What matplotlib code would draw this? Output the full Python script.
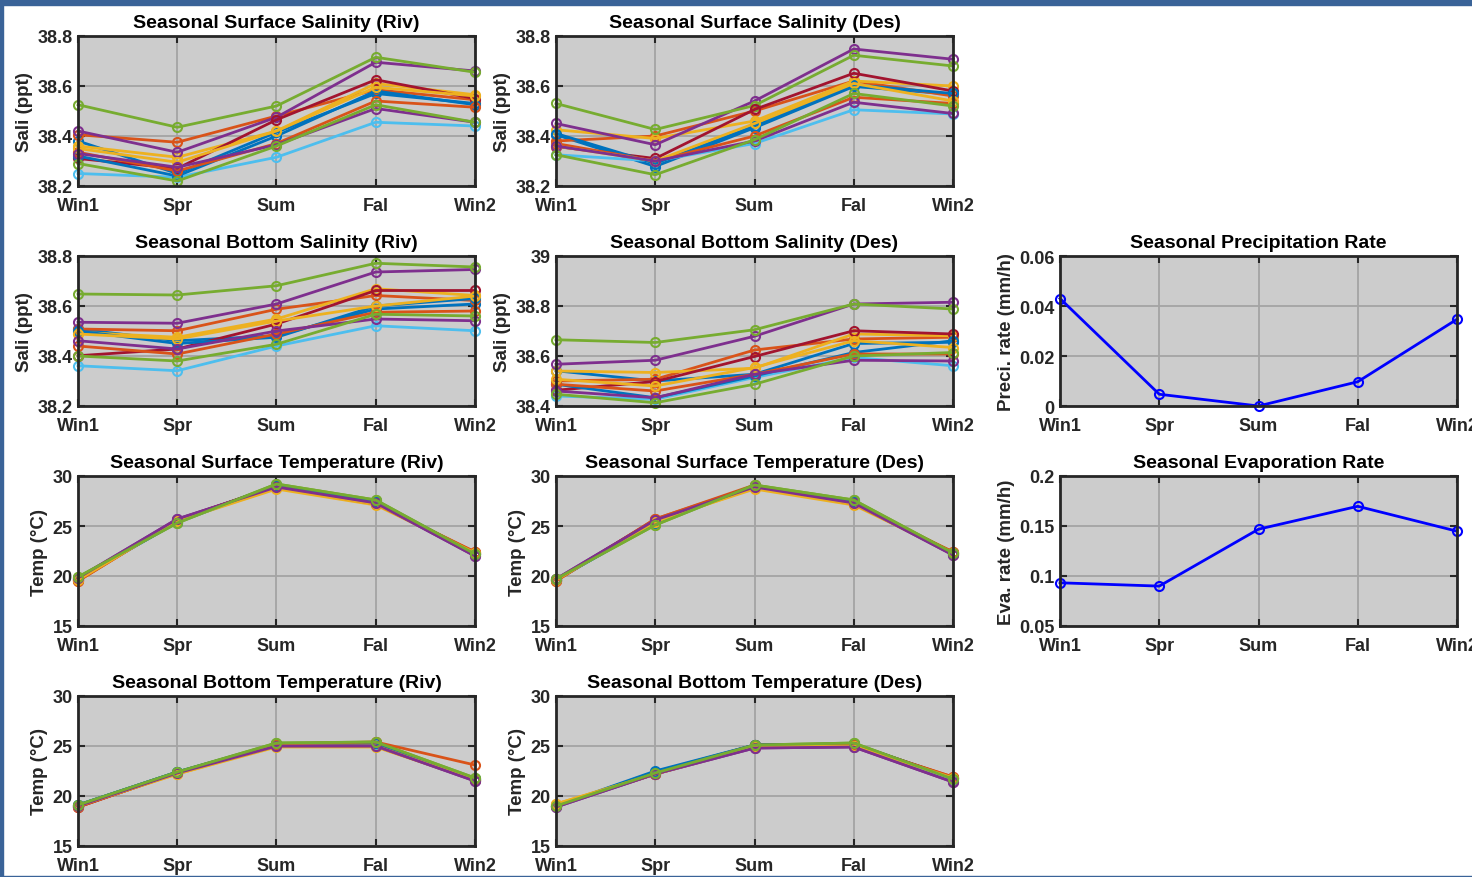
import numpy as np
import matplotlib
matplotlib.use("Agg")
import matplotlib.pyplot as plt
from matplotlib.patches import Rectangle

plt.rcParams['font.family'] = ['Liberation Sans', 'DejaVu Sans']
plt.rcParams['font.weight'] = 'bold'

seasons = ['Win1', 'Spr', 'Sum', 'Fal', 'Win2']

# MATLAB default colour order
line_colors = ['#0072BD', '#D95319', '#EDB120', '#7E2F8E', '#77AC30', '#4DBEEE', '#A2142F']

# surface salinity, river site (12 stations)
sss_riv = [
    [38.38, 38.25, 38.415, 38.57, 38.53],
    [38.405, 38.375, 38.48, 38.585, 38.545],
    [38.36, 38.315, 38.42, 38.61, 38.565],
    [38.42, 38.335, 38.475, 38.695, 38.66],
    [38.525, 38.435, 38.52, 38.715, 38.655],
    [38.25, 38.235, 38.315, 38.455, 38.44],
    [38.31, 38.27, 38.465, 38.625, 38.55],
    [38.32, 38.24, 38.40, 38.58, 38.525],
    [38.335, 38.26, 38.37, 38.54, 38.515],
    [38.35, 38.295, 38.42, 38.595, 38.56],
    [38.33, 38.275, 38.365, 38.51, 38.455],
    [38.29, 38.22, 38.36, 38.525, 38.455],
]
# surface salinity, desal site
sss_des = [
    [38.405, 38.278, 38.433, 38.598, 38.567],
    [38.38, 38.40, 38.50, 38.62, 38.56],
    [38.425, 38.39, 38.46, 38.62, 38.60],
    [38.45, 38.365, 38.54, 38.748, 38.707],
    [38.53, 38.426, 38.522, 38.723, 38.68],
    [38.325, 38.30, 38.37, 38.505, 38.488],
    [38.358, 38.31, 38.506, 38.651, 38.58],
    [38.41, 38.29, 38.44, 38.605, 38.57],
    [38.37, 38.30, 38.40, 38.555, 38.53],
    [38.36, 38.30, 38.45, 38.61, 38.54],
    [38.36, 38.30, 38.38, 38.535, 38.49],
    [38.325, 38.245, 38.385, 38.57, 38.52],
]
# bottom salinity
sbs_riv = [
    [38.508, 38.461, 38.481, 38.588, 38.608],
    [38.508, 38.501, 38.587, 38.642, 38.622],
    [38.495, 38.475, 38.548, 38.669, 38.642],
    [38.535, 38.531, 38.608, 38.736, 38.746],
    [38.648, 38.644, 38.681, 38.771, 38.756],
    [38.361, 38.341, 38.44, 38.521, 38.501],
    [38.401, 38.428, 38.528, 38.662, 38.662],
    [38.50, 38.45, 38.475, 38.60, 38.63],
    [38.44, 38.408, 38.488, 38.575, 38.58],
    [38.488, 38.468, 38.54, 38.60, 38.64],
    [38.461, 38.428, 38.50, 38.548, 38.541],
    [38.40, 38.38, 38.447, 38.567, 38.56],
]
sbs_des = [
    [38.541, 38.50, 38.527, 38.65, 38.655],
    [38.50, 38.507, 38.624, 38.668, 38.675],
    [38.54, 38.534, 38.551, 38.688, 38.681],
    [38.567, 38.583, 38.679, 38.808, 38.815],
    [38.665, 38.654, 38.705, 38.808, 38.788],
    [38.44, 38.427, 38.514, 38.594, 38.561],
    [38.463, 38.498, 38.598, 38.701, 38.688],
    [38.487, 38.433, 38.52, 38.614, 38.661],
    [38.487, 38.46, 38.527, 38.608, 38.608],
    [38.507, 38.48, 38.554, 38.661, 38.634],
    [38.46, 38.433, 38.527, 38.583, 38.58],
    [38.447, 38.413, 38.487, 38.60, 38.614],
]
# surface temperature
sst_riv = [
    [19.7, 25.4, 29.0, 27.4, 22.2],
    [19.5, 25.6, 29.0, 27.3, 22.4],
    [19.6, 25.5, 28.7, 27.1, 22.3],
    [19.8, 25.7, 28.9, 27.3, 22.0],
    [19.9, 25.3, 29.2, 27.6, 22.2],
    [19.7, 25.4, 29.0, 27.4, 22.2],
    [19.6, 25.6, 29.0, 27.3, 22.3],
    [19.7, 25.4, 29.1, 27.5, 22.2],
    [19.5, 25.6, 28.9, 27.2, 22.4],
    [19.6, 25.5, 28.8, 27.2, 22.3],
    [19.8, 25.7, 28.9, 27.3, 22.0],
    [19.9, 25.3, 29.2, 27.6, 22.2],
]
sst_des = [
    [19.6, 25.3, 29.0, 27.4, 22.2],
    [19.5, 25.7, 29.1, 27.3, 22.4],
    [19.6, 25.5, 28.7, 27.1, 22.3],
    [19.7, 25.6, 28.9, 27.3, 22.1],
    [19.7, 25.1, 29.1, 27.6, 22.3],
    [19.6, 25.3, 29.0, 27.4, 22.2],
    [19.6, 25.6, 29.0, 27.3, 22.3],
    [19.6, 25.3, 29.0, 27.5, 22.2],
    [19.5, 25.7, 29.0, 27.2, 22.4],
    [19.6, 25.4, 28.8, 27.2, 22.3],
    [19.7, 25.6, 28.9, 27.3, 22.1],
    [19.7, 25.1, 29.1, 27.6, 22.3],
]
# bottom temperature
sbt_riv = [
    [19.1, 22.4, 25.2, 25.3, 21.7],
    [18.9, 22.3, 25.1, 25.2, 21.6],
    [19.0, 22.2, 24.9, 24.9, 21.6],
    [19.0, 22.3, 25.0, 25.0, 21.5],
    [19.1, 22.4, 25.3, 25.4, 21.8],
    [19.0, 22.3, 25.1, 25.2, 21.7],
    [18.9, 22.3, 25.1, 25.3, 21.6],
    [19.1, 22.4, 25.2, 25.3, 21.7],
    [18.9, 22.3, 25.2, 25.4, 23.1],
    [19.0, 22.2, 25.0, 25.0, 21.6],
    [19.0, 22.3, 25.0, 25.0, 21.5],
    [19.1, 22.4, 25.3, 25.4, 21.8],
]
sbt_des = [
    [19.0, 22.5, 25.1, 25.2, 21.8],
    [19.0, 22.2, 25.0, 25.1, 21.9],
    [19.2, 22.2, 24.9, 25.0, 21.8],
    [18.9, 22.2, 24.8, 24.9, 21.4],
    [19.0, 22.3, 25.1, 25.3, 21.7],
    [19.0, 22.3, 25.0, 25.1, 21.7],
    [19.0, 22.3, 25.1, 25.2, 21.8],
    [19.0, 22.4, 25.1, 25.2, 21.8],
    [19.1, 22.2, 25.0, 25.1, 21.9],
    [19.2, 22.2, 24.9, 25.0, 21.8],
    [18.9, 22.2, 24.8, 24.9, 21.4],
    [19.0, 22.3, 25.1, 25.3, 21.7],
]
# atmospheric forcing
precip = [0.043, 0.0047, 0.0, 0.0097, 0.0347]
evap = [0.0932, 0.0899, 0.1468, 0.1697, 0.1448]

W, H = 1472, 878
fig = plt.figure(figsize=(W / 100, H / 100), dpi=100)
fig.patch.set_facecolor('white')

# window frame (screenshot border)
frame = '#3A6398'
fig.patches.append(Rectangle((0, 1 - 6 / H), 1, 6 / H, transform=fig.transFigure, color=frame, zorder=0))
fig.patches.append(Rectangle((0, 0), 3 / W, 1, transform=fig.transFigure, color=frame, zorder=0))
fig.patches.append(Rectangle((0, 0), 1, 1.5 / H, transform=fig.transFigure, color=frame, zorder=0))


def make_ax(left, top, title, ylabel, ylim, yticks):
    ax = fig.add_axes([left / W, (H - top - 150) / H, 397 / W, 150 / H])
    ax.set_facecolor('#cccccc')
    ax.set_xlim(1, 5)
    ax.set_ylim(*ylim)
    ax.set_xticks(range(1, 6))
    ax.set_xticklabels(seasons)
    ax.set_yticks(yticks)
    ax.set_yticklabels(['%g' % t for t in yticks])
    ax.grid(True, color='#a4a4a4', linewidth=1.3)
    ax.set_axisbelow(True)
    for sp in ax.spines.values():
        sp.set_color('#262626')
        sp.set_linewidth(2)
    ax.tick_params(direction='in', length=5, width=1.5, color='#262626',
                   top=True, right=True, labelsize=13, labelcolor='#262626')
    ax.tick_params(axis='x', pad=8)
    ax.tick_params(axis='y', pad=4)
    ax.set_title(title, fontsize=14, fontweight='bold', pad=6.5)
    ax.set_ylabel(ylabel, fontsize=13.5, fontweight='bold', color='#262626', labelpad=3)
    return ax


def draw_multi(ax, series):
    x = np.arange(1, 6)
    for i, s in enumerate(series):
        ax.plot(x, s, '-o', color=line_colors[i % 7], lw=2, ms=6.5,
                mfc='none', mew=1.5, clip_on=False)


cols = [78, 556]
rows = [37, 257, 477, 697]
sal_ticks = [38.2, 38.4, 38.6, 38.8]
tmp_ticks = [15, 20, 25, 30]

ax = make_ax(cols[0], rows[0], 'Seasonal Surface Salinity (Riv)', 'Sali (ppt)', (38.2, 38.8), sal_ticks)
draw_multi(ax, sss_riv)
ax = make_ax(cols[1], rows[0], 'Seasonal Surface Salinity (Des)', 'Sali (ppt)', (38.2, 38.8), sal_ticks)
draw_multi(ax, sss_des)
ax = make_ax(cols[0], rows[1], 'Seasonal Bottom Salinity (Riv)', 'Sali (ppt)', (38.2, 38.8), sal_ticks)
draw_multi(ax, sbs_riv)
ax = make_ax(cols[1], rows[1], 'Seasonal Bottom Salinity (Des)', 'Sali (ppt)', (38.4, 39.0), [38.4, 38.6, 38.8, 39.0])
draw_multi(ax, sbs_des)
ax = make_ax(cols[0], rows[2], 'Seasonal Surface Temperature (Riv)', 'Temp (\u00b0C)', (15, 30), tmp_ticks)
draw_multi(ax, sst_riv)
ax = make_ax(cols[1], rows[2], 'Seasonal Surface Temperature (Des)', 'Temp (\u00b0C)', (15, 30), tmp_ticks)
draw_multi(ax, sst_des)
ax = make_ax(cols[0], rows[3], 'Seasonal Bottom Temperature (Riv)', 'Temp (\u00b0C)', (15, 30), tmp_ticks)
draw_multi(ax, sbt_riv)
ax = make_ax(cols[1], rows[3], 'Seasonal Bottom Temperature (Des)', 'Temp (\u00b0C)', (15, 30), tmp_ticks)
draw_multi(ax, sbt_des)

ax = make_ax(1060, rows[1], 'Seasonal Precipitation Rate', 'Preci. rate (mm/h)', (0, 0.06), [0, 0.02, 0.04, 0.06])
ax.plot(np.arange(1, 6), precip, '-o', color='#0000FF', lw=2, ms=6.5, mfc='none', mew=1.5, clip_on=False)
ax = make_ax(1060, rows[2], 'Seasonal Evaporation Rate', 'Eva. rate (mm/h)', (0.05, 0.2), [0.05, 0.1, 0.15, 0.2])
ax.plot(np.arange(1, 6), evap, '-o', color='#0000FF', lw=2, ms=6.5, mfc='none', mew=1.5, clip_on=False)

fig.savefig('out.png', dpi=100)
